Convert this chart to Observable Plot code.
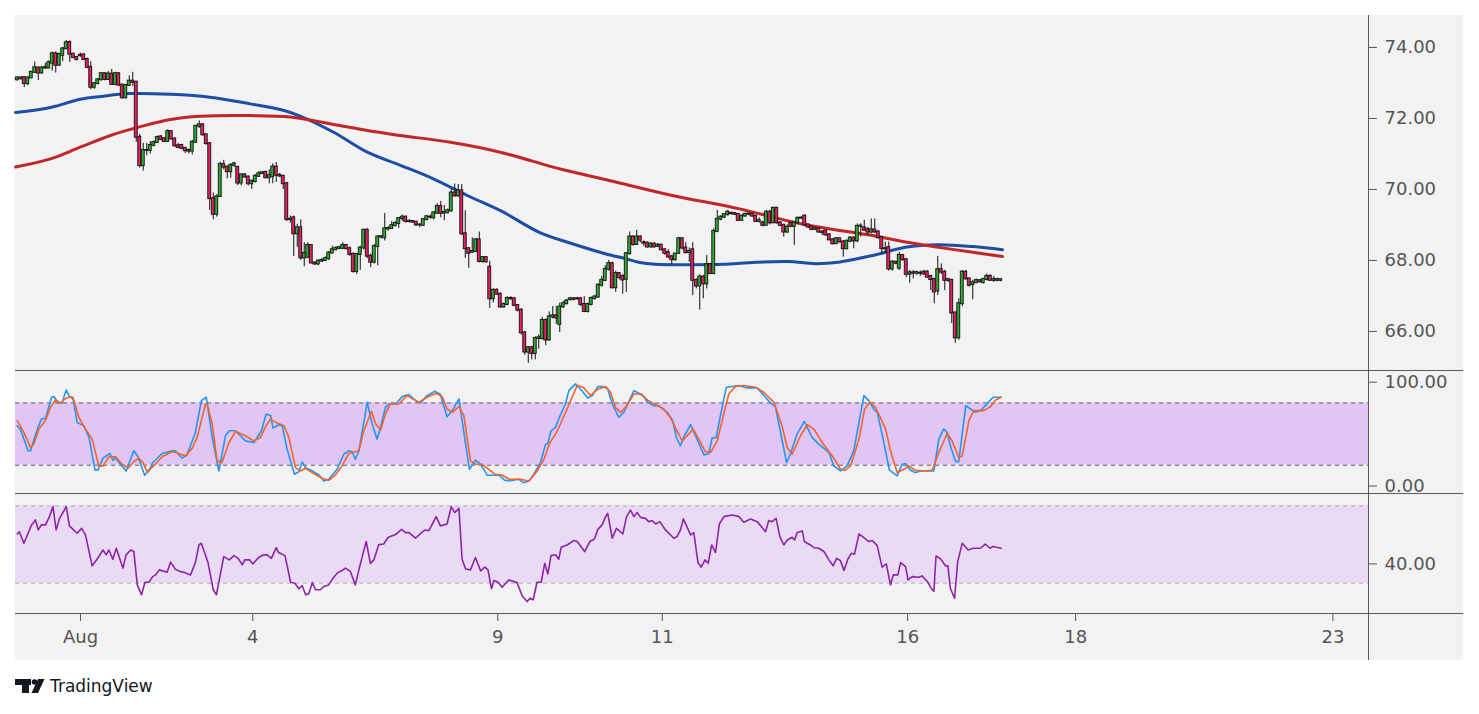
<!DOCTYPE html>
<html><head><meta charset="utf-8">
<script src="https://cdn.jsdelivr.net/npm/d3@7"></script>
<script src="https://cdn.jsdelivr.net/npm/@observablehq/plot@0.6"></script>
<style>
body{margin:0;background:#fff;width:1479px;height:714px;overflow:hidden;font-family:"DejaVu Sans",sans-serif;}
#chart{position:absolute;left:15px;top:15px;width:1448px;height:645px;background:#f2f2f2;}
.pane{position:absolute;left:0;}
.sep{position:absolute;left:0;width:1448px;height:1px;background:#5a5a5a;}
#vaxis{position:absolute;left:1353px;top:0;width:1px;height:645px;background:#5a5a5a;}
#logo{position:absolute;left:15px;top:679px;width:160px;height:18px;}
#logo span{position:absolute;left:35px;top:-3px;font:17px "DejaVu Sans",sans-serif;line-height:20px;color:#131722;}
</style></head>
<body>
<div id="chart">
  <div class="pane" id="p-main" style="top:0"></div>
  <div class="pane" id="p-stoch" style="top:355px"></div>
  <div class="pane" id="p-rsi" style="top:478px"></div>
  <div class="pane" id="p-x" style="top:598px"></div>
  <div class="sep" style="top:355px"></div>
  <div class="sep" style="top:478px"></div>
  <div class="sep" style="top:598px"></div>
  <div id="vaxis"></div>
</div>
<div id="logo">
  <svg width="30" height="15" viewBox="0 0 30 15" style="position:absolute;left:0;top:0">
    <path d="M0 0H16V6H14V14H7V6H0Z" fill="#131722"/>
    <circle cx="19.5" cy="3" r="2.8" fill="#131722"/>
    <path d="M23 0H29.5L23 14H16.5Z" fill="#131722"/>
  </svg>
  <span>TradingView</span>
</div>
<script>
// ---------- DATA ----------
const open = [
73.09,73.14,73.15,72.98,73.14,73.30,73.42,73.28,73.42,73.42,
73.56,73.82,73.50,73.78,73.96,74.14,73.81,73.72,73.77,73.79,
73.66,73.44,72.88,72.98,73.09,73.26,73.10,73.25,72.96,73.26,
72.94,72.58,72.93,73.05,73.02,71.47,70.67,71.10,71.10,71.24,
71.32,71.48,71.43,71.35,71.63,71.42,71.23,71.24,71.16,71.10,
71.08,71.33,71.78,71.82,71.54,71.29,69.74,69.30,69.80,70.70,
70.63,70.50,70.68,70.62,70.18,70.41,70.35,70.16,70.22,70.37,
70.45,70.48,70.33,70.36,70.63,70.40,70.37,70.16,69.15,69.20,
68.75,68.92,68.07,68.09,68.42,67.93,67.90,67.98,68.00,68.05,
68.21,68.30,68.34,
68.34,68.42,68.33,68.17,67.69,68.17,68.35,68.85,
68.12,67.95,68.39,68.66,68.64,68.89,68.90,68.98,69.04,69.18,
69.22,69.10,69.10,69.08,69.00,68.99,69.15,69.22,69.20,69.33,
69.52,69.33,69.35,69.40,69.90,69.82,69.96,68.75,68.33,68.23,
68.25,68.58,67.97,68.08,67.81,66.92,67.16,67.05,66.69,66.76,
66.93,66.92,66.73,66.60,65.96,65.42,65.54,65.38,65.80,65.80,
66.31,65.76,66.41,66.44,66.20,66.69,66.78,66.90,66.92,
66.92,66.92,66.76,66.56,66.76,66.93,66.97,67.30,67.44,67.75,67.91,67.23,
67.63,67.55,67.47,68.19,68.66,68.45,68.66,68.50,68.49,68.38,
68.46,68.40,68.43,68.30,68.22,68.10,68.02,68.20,68.61,68.35,
68.22,68.30,67.44,67.28,67.53,67.34,67.88,67.63,68.82,69.16,
69.22,69.29,69.33,69.32,69.30,69.13,69.25,69.30,69.30,69.25,
69.10,69.06,68.99,69.36,69.06,69.47,69.06,68.99,68.80,69.04,
68.96,69.06,69.19,69.25,69.00,68.94,68.88,68.89,68.80,68.83,
68.72,68.58,68.47,68.61,68.52,68.33,68.54,68.63,68.55,68.96,
68.92,68.88,68.80,68.86,68.80,68.64,68.33,68.36,67.76,67.95,
67.78,68.14,68.02,67.61,67.65,67.64,
67.64,67.67,67.67,67.55,67.46,67.14,67.74,67.67,67.44,67.44,
66.52,65.82,66.78,67.67,67.48,67.32,67.37,67.43,67.38,67.46,67.55,67.44,67.46,67.44];
const high = [
73.18,73.17,73.17,73.17,73.33,73.59,73.45,73.47,73.55,73.62,
73.87,73.88,73.84,74.00,74.20,74.18,73.84,73.74,73.84,73.82,
73.70,73.60,73.00,73.12,73.28,73.28,73.32,73.38,73.30,73.28,
72.97,72.96,73.20,73.30,73.05,71.55,71.30,71.30,71.35,71.36,
71.50,71.52,71.46,71.68,71.65,71.45,71.30,71.27,71.18,71.14,
71.38,71.80,71.93,71.86,71.56,71.32,69.90,69.85,70.77,70.82,
70.66,70.72,70.76,70.66,70.43,70.45,70.38,70.27,70.42,70.50,
70.50,70.52,70.55,70.72,70.76,70.45,70.40,70.20,69.25,69.25,
69.02,69.14,68.50,68.50,68.45,67.95,68.02,68.05,68.10,68.25,
68.40,68.38,68.40,
68.50,68.45,68.38,68.22,68.20,68.40,68.88,68.90,
68.18,68.45,68.70,68.70,69.32,68.95,69.10,69.10,69.20,69.28,
69.25,69.15,69.12,69.10,69.03,69.18,69.26,69.28,69.38,69.60,
69.66,69.55,69.45,70.00,70.15,70.14,70.14,69.40,68.36,68.64,
68.62,68.80,68.10,68.10,67.98,67.20,67.20,67.08,66.80,66.98,
66.98,66.96,66.76,66.64,66.00,65.58,65.58,65.85,65.90,66.40,
66.35,66.55,66.70,66.70,66.80,66.85,66.90,66.96,66.95,
66.96,66.96,66.98,66.80,66.97,67.02,67.35,67.55,67.85,68.00,67.95,67.70,
67.66,67.60,68.22,68.80,68.70,68.85,68.70,68.55,68.52,68.50,
68.50,68.48,68.46,68.33,68.30,68.15,68.20,68.65,68.64,68.50,
68.35,68.50,67.48,67.60,67.58,68.14,67.90,68.89,69.41,69.26,
69.32,69.41,69.36,69.34,69.32,69.28,69.33,69.34,69.33,69.27,
69.20,69.10,69.41,69.41,69.50,69.50,69.08,69.02,69.00,69.06,
69.10,69.22,69.24,69.28,69.02,68.96,68.94,68.92,68.84,68.86,
68.75,68.62,68.64,68.64,68.56,68.58,68.67,68.66,69.03,69.03,
69.13,68.92,69.17,69.17,68.85,68.68,68.52,68.52,68.00,67.98,
68.23,68.16,68.05,67.72,67.72,67.70,
67.70,67.72,67.72,67.58,67.50,68.11,67.90,67.72,67.50,67.47,
66.55,66.92,67.72,67.72,67.50,67.44,67.48,67.46,67.50,67.62,67.60,67.55,67.50,67.49];
const low = [
73.05,73.08,72.87,72.92,73.12,73.27,73.07,73.25,73.38,73.40,
73.33,73.28,73.47,73.60,73.94,73.58,73.68,73.62,73.72,73.64,
73.40,72.81,72.82,72.95,73.05,73.06,73.07,72.93,72.92,72.90,
72.55,72.55,72.90,72.90,71.33,70.60,70.52,70.95,71.00,71.20,
71.30,71.38,71.33,71.33,71.40,71.18,71.15,71.12,71.01,71.00,
70.97,71.30,71.72,71.50,71.25,69.41,69.15,69.22,69.78,70.55,
70.30,70.32,70.62,70.11,70.10,70.32,70.10,70.00,70.18,70.34,
70.42,70.30,70.16,70.16,70.20,70.33,70.00,69.10,69.05,68.11,
68.37,68.00,67.82,68.05,67.90,67.86,67.85,67.95,67.97,68.00,
68.18,68.27,68.30,
68.32,68.30,68.12,67.64,67.60,67.72,68.30,68.05,
67.80,67.90,67.85,68.60,68.55,68.82,68.88,68.95,68.90,69.10,
69.05,69.05,69.04,68.96,68.92,68.96,69.12,69.16,69.14,69.30,
69.20,69.12,69.30,69.35,69.78,69.78,68.70,68.06,67.78,68.20,
68.22,67.93,67.92,67.93,66.65,66.80,67.02,66.65,66.65,66.72,
66.88,66.70,66.55,65.90,65.33,65.10,65.20,65.20,65.50,65.76,
65.60,65.72,66.35,66.20,65.97,66.65,66.75,66.85,66.86,
66.88,66.70,66.53,66.52,66.72,66.88,66.93,67.25,67.40,67.70,67.20,67.10,
67.45,67.05,67.10,68.15,68.40,68.42,68.50,68.40,68.35,68.35,
68.35,68.36,68.27,68.15,68.05,67.88,67.98,68.18,68.30,68.18,
67.95,67.01,67.20,66.60,66.92,67.20,67.60,67.60,68.78,69.12,
69.18,69.25,69.28,69.26,69.10,69.10,69.22,69.26,69.22,69.07,
69.05,68.95,68.97,69.00,69.04,69.02,68.95,68.66,68.76,68.92,
68.42,69.03,69.15,68.95,68.90,68.84,68.84,68.77,68.70,68.68,
68.55,68.44,68.45,68.49,68.09,68.30,68.50,68.33,68.50,68.66,
68.82,68.70,68.75,68.77,68.60,68.19,68.20,67.70,67.70,67.88,
67.72,67.98,67.51,67.36,67.48,67.58,
67.55,67.58,67.50,67.15,66.78,67.01,67.60,67.15,67.38,66.22,
65.67,65.75,66.70,67.45,67.25,66.89,67.35,67.36,67.33,67.43,67.42,67.38,67.40,67.40];
const close = [
73.14,73.12,72.98,73.14,73.30,73.43,73.28,73.42,73.43,73.57,
73.82,73.50,73.80,73.96,74.13,73.81,73.72,73.66,73.78,73.66,
73.44,72.88,72.98,73.09,73.26,73.10,73.25,72.96,73.26,72.94,
72.58,72.93,73.05,73.02,71.47,70.67,71.10,71.10,71.24,71.32,
71.46,71.40,71.35,71.63,71.42,71.23,71.18,71.16,71.09,71.08,
71.33,71.78,71.82,71.54,71.29,69.74,69.30,69.79,70.70,70.63,
70.50,70.68,70.72,70.18,70.41,70.35,70.16,70.23,70.37,70.44,
70.47,70.33,70.39,70.63,70.40,70.38,70.16,69.15,69.16,68.75,
68.92,68.07,68.20,68.42,67.93,67.90,67.98,68.00,68.05,68.21,
68.30,68.34,68.36,
68.42,68.33,68.17,67.69,68.17,68.35,68.85,68.12,
67.95,68.39,68.66,68.67,68.89,68.90,68.98,69.04,69.18,69.22,
69.10,69.10,69.08,69.00,69.00,69.15,69.23,69.22,69.34,69.52,
69.33,69.35,69.40,69.90,69.82,69.96,68.75,68.33,68.20,68.25,
68.58,67.97,68.08,67.96,66.92,67.16,67.05,66.69,66.76,66.93,
66.92,66.73,66.60,65.96,65.42,65.54,65.38,65.80,65.82,66.31,
65.76,66.41,66.44,66.38,66.69,66.78,66.86,66.92,66.90,
66.92,66.76,66.56,66.76,66.93,66.97,67.30,67.44,67.75,67.91,67.23,67.63,
67.52,67.45,68.19,68.66,68.45,68.66,68.57,68.49,68.38,68.46,
68.38,68.43,68.30,68.20,68.10,68.02,68.18,68.61,68.35,68.22,
68.25,67.44,67.28,67.53,67.34,67.88,67.63,68.82,69.16,69.22,
69.29,69.36,69.32,69.30,69.13,69.25,69.30,69.31,69.25,69.10,
69.12,68.99,69.36,69.06,69.47,69.06,68.99,68.80,68.94,68.96,
69.06,69.19,69.19,69.00,68.94,68.87,68.89,68.80,68.79,68.72,
68.58,68.47,68.61,68.52,68.33,68.54,68.63,68.55,68.96,68.97,
68.85,68.80,68.86,68.80,68.64,68.33,68.33,67.76,67.95,67.92,
68.14,68.02,67.61,67.65,67.64,67.66,
67.64,67.62,67.53,67.46,67.11,67.74,67.67,67.44,67.46,66.52,
65.82,66.78,67.67,67.48,67.30,67.37,67.43,67.40,67.46,67.55,67.44,67.46,67.44,67.46];

// moving averages [bar index, price]
const maBlue = [[-0.5,72.17],[9.5,72.31],[18,72.54],[24,72.62],[32,72.70],[44,72.68],[55,72.60],[66.6,72.41],[76,72.23],[81,72.06],[90.4,71.61],[100,71.05],[109.5,70.68],[118.9,70.30],[128.6,69.83],[138.5,69.38],[149,68.80],[158.6,68.47],[168,68.19],[173.8,68.05],[177.5,67.95],[182.3,67.89],[191.8,67.88],[201.5,67.89],[211,67.95],[220.4,67.97],[228,67.91],[234.6,67.95],[244.4,68.14],[253.8,68.37],[263.2,68.44],[273,68.39],[281.5,68.30]];
const maRed = [[-0.5,70.63],[9.5,70.86],[18,71.19],[26.6,71.52],[35.2,71.77],[43.8,71.97],[52.4,72.06],[66.6,72.08],[78,72.04],[90.4,71.83],[100,71.66],[109.5,71.52],[123.8,71.33],[138,71.05],[152.3,70.65],[156.6,70.54],[171,70.21],[187.2,69.83],[206,69.46],[225,69.01],[244.4,68.70],[253.8,68.52],[263.2,68.37],[273,68.23],[281.5,68.11]];

// stochastic %K and %D [bar index, value]
const stochK = [[0,58.1],[0.9,54.8],[3.1,33.9],[3.8,33.9],[5.4,51.6],[6.9,64.5],[8.1,65.2],[9.8,85.5],[10.5,86.1],[11.7,80],[12.8,80],[14,92.6],[14.9,86.1],[15.9,85.5],[17.1,61.3],[19,58.1],[20.5,46.8],[22.2,15.5],[23.1,15.5],[24.5,26.8],[26.5,31.3],[27.3,24.8],[28.1,26.8],[31.1,14.5],[33.3,33.9],[34.5,28.1],[36.4,10.3],[37.6,14.5],[38.7,22.6],[41.4,31.3],[44.3,33.9],[45.2,33.9],[47.1,26.8],[48.5,30],[50.9,51.6],[52.6,82.3],[54,85.5],[55.7,46.8],[57.6,14.5],[59.5,48.4],[60.6,53.2],[62.4,53.2],[65.2,43.5],[67.6,41.9],[69.8,53.2],[71.1,69.4],[72.4,67.7],[73.1,55.8],[74.7,59],[75.7,58.1],[77.1,35.5],[79.2,11.3],[80.5,13.9],[81.4,23.2],[82.4,17.7],[84.3,14.5],[86.2,10.6],[87.6,4.8],[89,6.5],[91.4,16.1],[93.3,30.6],[94.7,33.9],[95.7,32.9],[96.6,25.8],[97.6,33.9],[100,80.6],[101.4,59.7],[102.8,45.2],[103.8,56.5],[105.2,75.8],[106.2,79],[108.1,79],[110,86.1],[111.9,88.1],[113.8,82.3],[115.2,80],[117.1,87.1],[119.3,91.3],[120.9,88.1],[122.8,66.8],[124.3,72.6],[126.2,83.9],[127.6,51.6],[129.2,16.1],[130.9,24.8],[132.4,21],[134.3,10.3],[136.2,10.3],[137.6,10.6],[139.3,5.5],[140.5,4.8],
[143.3,6.5],[144.7,3.2],[146.2,4.8],[147.6,11.3],[149.5,22.6],[150.9,39.7],[151.6,41],[152.5,53.2],[153.8,56.5],[154.7,64.5],[156.6,79],[157.6,91.9],[159.5,98.4],[160.9,93.5],[163,84.8],[164.3,87.1],[165.9,95.8],[167.4,95.8],[168.7,93.5],[170,79],[171.9,66.1],[173.3,71],[176.2,91.9],[177.6,89.4],[179,86.1],[180,80.6],[181.9,77.4],[183.3,77.4],[185.7,71],[187.3,62.9],[188.3,46.8],[189.5,38.7],[190.6,48.4],[192.4,59],[193.8,48.4],[196.2,30],[197.6,31.3],[198.5,46.1],[199.7,46.8],[201.1,71],[202.6,95.2],[204.3,95.8],[206.2,96.8],[208.5,94.5],[211.4,94.5],[213.8,85.5],[215.2,80],[216.6,76.5],[217.6,59.7],[219.8,22.6],[220.9,30.6],[222.8,50],[224.9,62.3],[227.1,46.8],[229,40.3],[231.9,32.3],[233.3,19.4],[235.2,14.5],[237.1,19.4],[239,33.9],[241.9,87.1],[243.3,82.3],[244.7,74.2],[245.7,71],[247.1,50],[249.2,15.2],[251.4,9.7],[252.8,21],[253.8,21.6],[255.2,15.2],[256.6,12.9],[258.1,14.5],[261.9,14.5],[263.3,45.2],[264.7,54.8],[265.7,51.6],[266.6,38.7],[268.1,23.5],[269,23.5],[271,77.4],[272.4,74.2],[273.8,71],[275.2,72.6],[276.6,77.4],[278.8,85.5],[281.1,85.5]];
const stochD = [[0,62.9],[1.9,51.6],[3.8,37.1],[4.7,40.3],[6.2,54.8],[8.1,63.5],[9.5,75.8],[10.9,82.9],[12.4,80],[13.6,83.9],[15.2,86.1],[16.2,82.3],[17.6,66.1],[19.5,54.8],[21.4,45.2],[23.3,19.4],[24.5,19.4],[26.2,28.1],[28.1,28.1],[30,21],[31.7,17.1],[33.3,23.5],[34.7,26.8],[35.9,22.6],[37.1,13.9],[39,19.4],[41.4,28.1],[44.3,33.2],[46.2,31.3],[48.1,29],[50,36.5],[51.4,46.8],[53.8,79],[54.3,78.4],[55.7,59.7],[57.1,24.2],[58.5,22.6],[60.5,41.9],[62.4,52.6],[65.2,48.4],[67.6,43.5],[69.5,46.8],[71.1,58.1],[72.4,64.5],[73.8,61.3],[76.2,58.1],[77.6,46.8],[79.5,17.7],[80.9,14.5],[82.4,17.1],[84.7,11.9],[87.1,7.4],[89,5.5],[90.9,10.6],[92.8,19.4],[94.7,31.3],[97.6,33.9],[99,53.2],[101.2,71.9],[102.4,59.7],[103.8,53.9],[105.2,69.4],[106.6,79],[109,79],[111.4,87.1],[114.7,80.6],[117.1,85.5],[119.7,89.4],[121.4,86.1],[122.8,74.2],[124.3,71],[126.2,76.5],[127.6,67.7],[129.5,24.2],[130.9,21],[132.8,21],[134.7,16.1],[136.6,11.3],[138.5,10.6],[140.5,6.5],
[143.8,6.5],[146.2,4.8],[148.6,14.5],[150.5,25.8],[152.2,41.9],[153.8,50],[155.2,59.7],[157.1,74.2],[158.5,85.5],[160,96.8],[161.7,95.2],[163.8,87.1],[165.9,93.5],[168.1,95.8],[169.5,90.3],[170.9,75.8],[172.4,71],[173.8,75.8],[176.2,88.7],[178.3,88.7],[180,82.9],[182.4,78.4],[184.7,74.2],[186.6,66.1],[188.5,53.2],[190,43.5],[191.4,48.4],[193.1,54.8],[194.7,45.2],[196.6,33.2],[198.1,32.3],[200,43.5],[201.4,62.9],[203.3,88.7],[205.2,95.8],[207.6,96.8],[210.9,95.2],[213.3,90.3],[216.2,80.6],[218.5,58.1],[220,37.1],[221.4,30.6],[223.8,48.4],[225.7,59],[227.6,54.8],[230,41.9],[233.3,26.8],[235.2,16.1],[236.6,15.2],[238.1,19.4],[240.5,45.2],[242.1,74.2],[243.6,80.6],[245.2,75.8],[246.6,66.1],[248.1,54.8],[249.5,33.9],[251.4,12.9],[253.3,16.1],[254.7,19.4],[256.6,15.2],[259.5,14.5],[261.4,15.2],[263.3,32.3],[265.7,50.6],[267.1,43.5],[269,27.4],[270,29],[271.9,62.9],[273.3,72.6],[276.2,72.6],[278.1,76.5],[279.5,82.9],[281.1,85.5]];

// RSI [bar index, value]
const rsi = [[0,55.5],[0.6,56.7],[1.9,50.7],[4.1,60.2],[5.2,62.8],[6,57.6],[6.9,60.2],[8.1,60.2],[9.2,64.5],[10.2,69.7],[11.1,57.6],[12.1,63.6],[14,69.7],[14.9,59.7],[17.1,55.9],[18.4,58.4],[19.5,55],[21.4,39],[22.8,42.4],[24.5,47.2],[25.4,44.7],[26.2,47.2],[27.3,42.4],[28.3,48.1],[30.2,37.8],[31.1,44.7],[32.4,47.2],[33.3,46.4],[34.3,29.1],[35.5,24],[36.5,30.5],[37.6,30.5],[38.7,33.4],[39.5,34.3],[40.6,36.9],[42.8,35.7],[43.8,40.9],[45.2,37.2],[46.6,36],[47.6,35.7],[49.5,34.3],[50.9,40.7],[51.9,49.8],[52.6,50.7],[54.5,40.7],[56,26.6],[56.9,24],[59,43.8],[60.6,42.1],[61.9,44.3],[63.1,42.9],[64.3,39.5],[65,42.1],[66.4,42.1],[67.3,40],[69,43.4],[70.5,44.7],[71.4,44.7],[72.6,42.9],[74,48.4],[74.7,45.9],[76.5,44.3],[78.1,30.5],[79.3,30],[80.5,27.1],[81.4,28.8],[82.4,24],[83.3,24.5],[84.3,30.3],[85.2,26.6],[86.6,26.6],[87.6,28.3],[89,29.1],[90.2,32.6],[91.4,35.2],[92.8,36.6],[93.8,37.8],[95.2,36],[96.6,29.1],[97.8,38.3],[99.7,51.6],[100.9,40.3],[101.9,42.1],[103.3,50],[104.7,50.3],[106,53.8],[108.1,55.2],[109.8,57.9],[110.9,56.2],[111.9,56.2],[113.8,53.3],[115.5,56.2],[116.6,57.6],[117.6,57.2],[119.7,64.5],[120.9,59.7],[122.8,60.7],[124,69.7],[125,66.6],[126.2,68.8],[127.1,42.4],[128.1,37.4],[129.5,36.9],[130.9,43.3],[132.4,36.4],[133.6,38.3],[134.5,36.9],[135.5,27.1],[136.2,31.4],[137.4,30.5],[138.5,27.9],[140.5,31.7],
[142.8,30.3],[144.3,23.4],[145.7,20.5],[146.5,22.2],[147.4,21.4],[148.5,30.5],[149.7,30.5],[150.7,40.3],[151.6,34.8],[152.5,44.3],[153.8,44.7],[154.7,42.4],[155.4,48.6],[157.1,49.8],[159,52.1],[160,51.6],[162.1,46.4],[163.6,51.6],[164.9,52.9],[165.9,57.9],[167.1,60.2],[168.1,64.5],[168.7,66.2],[170,53.3],[171.2,58.4],[173,55.5],[174.1,64.5],[175.2,67.9],[176.2,64.5],[177.1,66.6],[178.1,64.1],[179.5,63.6],[180.4,61.9],[181.4,62.4],[182.4,60.7],[183.6,61.9],[185.2,57.6],[187.6,53.3],[188.5,54.1],[189.5,57.6],[190.3,63.3],[192.4,55],[193.3,56.2],[194.5,40.7],[195.4,38.3],[196.5,42.1],[197.4,40.3],[198.4,49.8],[199.5,45.9],[200.6,60.7],[201.9,64.5],[204.3,65.3],[206.2,64.5],[207.6,61.6],[209.5,63.3],[211.4,61.9],[213.8,56.7],[214.7,62.4],[215.7,61.9],[216.8,63.6],[217.9,54.1],[219,49.8],[220,52.4],[221.4,53.8],[222.1,52.4],[222.8,56.2],[224.3,57.1],[224.9,51.6],[226.6,49.8],[227.6,48.4],[229,48.1],[230.5,46.4],[231.9,42.1],[233.1,39],[234.1,42.9],[235.2,41.7],[236.2,36.6],[237.3,42.4],[238.3,45.5],[239.2,45],[240.5,55.5],[242.1,53.3],[243.3,51.6],[244.3,52.1],[245.7,49.5],[247.1,38.3],[248.3,40],[249.5,29.1],[250.3,34.3],[251.6,34.3],[252.4,40.7],[253.8,38.6],[254.5,31.7],[255.7,33.4],[257.6,33.1],[258.5,33.8],[260,30.9],[261.1,27.4],[261.9,25.7],[262.5,44.1],[263.8,42.6],[265.2,39],[265.9,39],[266.6,27.4],[267.8,22.2],[268.7,41.2],[270,50.7],[271.7,47.2],[273.1,48.1],[275.2,48.1],[276.6,50.3],[277.9,48.1],[278.8,49],[281.1,48.1]];

const priceTicks = [66, 68, 70, 72, 74];
const stochTicks = [0, 100];
const rsiTicks = [40];
const stochBand = [20, 80];
const rsiBand = [30, 70];
const dateTickPos = [18.07, 67.3, 137.3, 184.3, 254.4, 302.4, 375.9];
const dateTickLabels = ["Aug", "4", "9", "11", "16", "18", "23"];

// ---------- STYLE / LAYOUT ----------
const UP = "#2eaa2e", DOWN = "#e91e63";
const W = 1448, MR = 95;
const xDomain = [-0.5, 386.07];
const font = {background: "transparent", fontFamily: "DejaVu Sans, sans-serif", fontSize: "18px", color: "#555", overflow: "visible"};
const fmt2 = d => d.toFixed(2);

const candles = close.map((c, i) => ({i, o: open[i], h: high[i], l: low[i], c}));

const main = Plot.plot({
  width: W, height: 355, marginLeft: 0, marginRight: MR, marginTop: 0, marginBottom: 0,
  style: font,
  x: {domain: xDomain, axis: null, label: null},
  y: {domain: [64.90, 74.90], axis: "right", ticks: priceTicks, tickFormat: fmt2, tickSize: 8, tickPadding: 8, label: null},
  color: {type: "identity"},
  marks: [
    Plot.line(maBlue, {x: d => d[0], y: d => d[1], stroke: "#1c4ea6", strokeWidth: 3, curve: "catmull-rom"}),
    Plot.line(maRed, {x: d => d[0], y: d => d[1], stroke: "#c1262b", strokeWidth: 3, curve: "catmull-rom"}),
    Plot.ruleX(candles, {x: "i", y1: "l", y2: "h", stroke: "#111", strokeWidth: 1}),
    Plot.rect(candles, {x1: d => d.i - 0.42, x2: d => d.i + 0.42, y1: "o", y2: "c",
      fill: d => d.c >= d.o ? UP : DOWN, stroke: "#111", strokeWidth: 0.9, insetTop: -0.5, insetBottom: -0.5})
  ]
});
document.getElementById("p-main").append(main);

const stoch = Plot.plot({
  width: W, height: 123, marginLeft: 0, marginRight: MR, marginTop: 0, marginBottom: 0,
  style: font,
  x: {domain: xDomain, axis: null, label: null},
  y: {domain: [-7.23, 111.27], axis: "right", ticks: stochTicks, tickFormat: fmt2, tickSize: 8, tickPadding: 8, label: null},
  marks: [
    Plot.rect([stochBand], {x1: () => xDomain[0], x2: () => xDomain[1], y1: d => d[0], y2: d => d[1], fill: "#e1c5f4"}),
    Plot.ruleY(stochBand, {stroke: "#5e5a66", strokeWidth: 1, strokeDasharray: "4,4"}),
    Plot.line(stochK, {x: d => d[0], y: d => d[1], stroke: "#2196f3", strokeWidth: 1.6}),
    Plot.line(stochD, {x: d => d[0], y: d => d[1], stroke: "#f5622a", strokeWidth: 1.6})
  ]
});
document.getElementById("p-stoch").append(stoch);

const rsiPlot = Plot.plot({
  width: W, height: 120, marginLeft: 0, marginRight: MR, marginTop: 0, marginBottom: 0,
  style: font,
  x: {domain: xDomain, axis: null, label: null},
  y: {domain: [14.30, 76.48], axis: "right", ticks: rsiTicks, tickFormat: fmt2, tickSize: 8, tickPadding: 8, label: null},
  marks: [
    Plot.rect([rsiBand], {x1: () => xDomain[0], x2: () => xDomain[1], y1: d => d[0], y2: d => d[1], fill: "#e9dbf3"}),
    Plot.ruleY(rsiBand, {stroke: "#b9a9c4", strokeWidth: 1, strokeDasharray: "4,4"}),
    Plot.line(rsi, {x: d => d[0], y: d => d[1], stroke: "#8e24aa", strokeWidth: 1.6})
  ]
});
document.getElementById("p-rsi").append(rsiPlot);

const labelMap = new Map(dateTickPos.map((p, k) => [p, dateTickLabels[k]]));
const xAxis = Plot.plot({
  width: W, height: 47, marginLeft: 0, marginRight: MR, marginTop: 0, marginBottom: 46,
  style: font,
  x: {domain: xDomain, axis: "bottom", ticks: dateTickPos, tickFormat: d => labelMap.get(d), tickSize: 7, tickPadding: 9, label: null},
  marks: [Plot.ruleX(dateTickPos, {x: d => d, strokeOpacity: 0})]
});
document.getElementById("p-x").append(xAxis);
</script>
</body></html>
